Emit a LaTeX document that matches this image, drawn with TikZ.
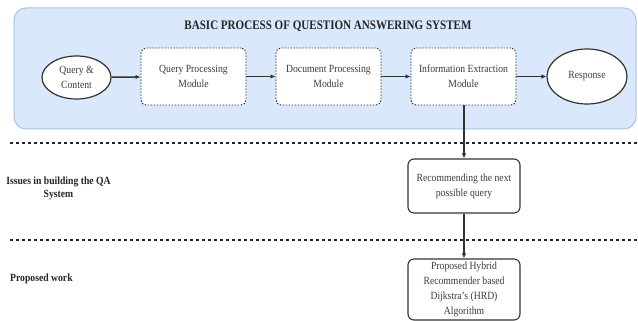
\documentclass[tikz,border=0pt]{standalone}
\usepackage{fontspec}
\setmainfont{Liberation Serif}[FakeStretch=0.88]
\newfontfamily\titlefont{Liberation Serif}[FakeStretch=0.85]
\usetikzlibrary{shapes.geometric,arrows.meta}
\definecolor{panelfill}{RGB}{218,232,252}
\definecolor{paneldraw}{RGB}{169,196,235}
\definecolor{ink}{RGB}{51,51,51}
\definecolor{txt}{RGB}{60,60,60}
\tikzset{
  panel/.style={fill=panelfill,draw=paneldraw,line width=1pt,rounded corners=12pt},
  oval/.style={ellipse,draw=ink,line width=1.2pt,fill=white,inner sep=0pt,align=center,
    text=txt,font=\fontsize{11}{15}\selectfont},
  dotbox/.style={draw=ink,line width=0.9pt,dash pattern=on 1.5pt off 1.5pt,fill=white,
    rounded corners=5pt,inner sep=0pt,align=center,text=txt,
    minimum width=105pt,minimum height=57pt,font=\fontsize{11}{15}\selectfont},
  solidbox/.style={draw=ink,line width=1.1pt,fill=white,rounded corners=6pt,inner sep=0pt,
    align=center,text=txt,minimum width=112pt,font=\fontsize{11}{15}\selectfont},
  flow/.style={draw=ink,line width=1.5pt,-{Latex[length=5pt,width=4.5pt]}},
  vflow/.style={draw=ink,line width=1.2pt,-{Latex[length=5pt,width=4.5pt]}},
  sep/.style={draw=black!85,line width=1.5pt,dash pattern=on 3pt off 3pt},
  lbl/.style={font=\fontsize{11}{13}\selectfont\bfseries,text=black!85,align=center,inner sep=0pt}
}
\begin{document}
\begin{tikzpicture}[x=1pt,y=-1pt]
\useasboundingbox (0,0) rectangle (638,321);
\fill[white] (0,0) rectangle (638,321);
% panel
\draw[panel] (14,8) rectangle (636,129);
\node[font=\titlefont\fontsize{13}{15}\selectfont\bfseries,text=black!85,inner sep=0pt] (title) at (328,26) {BASIC PROCESS OF QUESTION ANSWERING SYSTEM};
% top row
\node[oval,minimum width=69pt,minimum height=43pt] (qc) at (76.5,77.5) {Query \&\\Content};
\node[dotbox] (qp) at (193.5,76.5) {Query Processing\\Module};
\node[dotbox] (dp) at (328.5,76.5) {Document Processing\\Module};
\node[dotbox] (ie) at (463.5,76.5) {Information Extraction\\Module};
\node[oval,minimum width=80pt,minimum height=55pt] (resp) at (587,76.5) {Response};
\draw[flow] (qc) -- (qp);
\draw[flow] (qp) -- (dp);
\draw[flow] (dp) -- (ie);
\draw[flow] (ie) -- (resp);
% separators
\coordinate (s1a) at (10,143);
\coordinate (s1b) at (638,143);
\coordinate (s2a) at (10,240);
\coordinate (s2b) at (638,240);
\draw[sep] (s1a) -- (s1b);
\draw[sep] (s2a) -- (s2b);
% lower boxes
\node[solidbox,minimum height=54pt] (rec) at (464,186) {Recommending the next\\possible query};
\node[solidbox,minimum height=61pt] (hrd) at (464,289.5) {Proposed Hybrid\\Recommender based\\Dijkstra's (HRD)\\Algorithm};
\draw[vflow] (ie.south -| rec.north) -- (rec.north);
\draw[vflow] (rec) -- (hrd);
% left labels
\node[lbl] (issues) at (58.5,188.5) {Issues in building the QA\\System};
\node[lbl,anchor=west] (prop) at (10,279) {Proposed work};
\end{tikzpicture}
\end{document}
